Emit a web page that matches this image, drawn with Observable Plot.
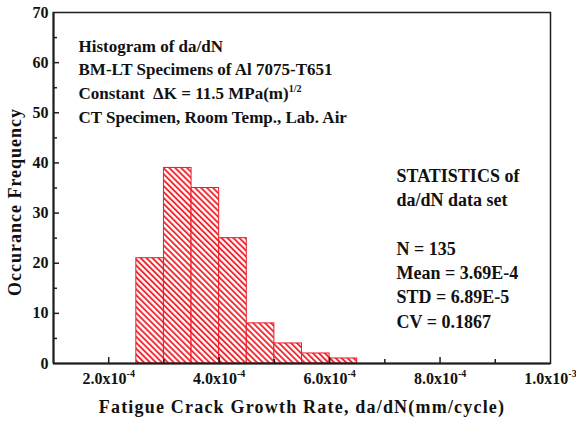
<!DOCTYPE html>
<html>
<head>
<meta charset="utf-8">
<script src="https://cdn.jsdelivr.net/npm/d3@7"></script>
<script src="https://cdn.jsdelivr.net/npm/@observablehq/plot@0.6"></script>
<style>
  html, body { margin: 0; padding: 0; background: #fff; }
  #chart { width: 576px; height: 425px; }
</style>
</head>
<body>
<div id="chart"></div>
<script>
// ---- data ----
const binStart = [2.5e-4, 3.0e-4, 3.5e-4, 4.0e-4, 4.5e-4, 5.0e-4, 5.5e-4, 6.0e-4];
const binEnd   = [3.0e-4, 3.5e-4, 4.0e-4, 4.5e-4, 5.0e-4, 5.5e-4, 6.0e-4, 6.5e-4];
const counts   = [21, 39, 35, 25, 8, 4, 2, 1];

const xMajorTicks = [2e-4, 4e-4, 6e-4, 8e-4, 1e-3];
const xTickLabels = ["2.0x10^-4", "4.0x10^-4", "6.0x10^-4", "8.0x10^-4", "1.0x10^-3"];
const xMinorTicks = [3e-4, 5e-4, 7e-4, 9e-4];
const yMajorTicks = [0, 10, 20, 30, 40, 50, 60, 70];
const yTickLabels = ["0", "10", "20", "30", "40", "50", "60", "70"];
const yMinorTicks = [5, 15, 25, 35, 45, 55, 65];

const xTitle = "Fatigue Crack Growth Rate, da/dN(mm/cycle)";
const yTitle = "Occurance Frequency";
const infoLines = [
  "Histogram of da/dN",
  "BM-LT Specimens of Al 7075-T651",
  "Constant \u00a0\u0394K = 11.5 MPa(m)^1/2",
  "CT Specimen, Room Temp., Lab. Air"
];
const statLines = [
  "STATISTICS of",
  "da/dN data set",
  "",
  "N = 135",
  "Mean = 3.69E-4",
  "STD = 6.89E-5",
  "CV = 0.1867"
];

const bins = binStart.map((s, i) => ({x1: s, x2: binEnd[i], count: counts[i]}));
const xTicks = xMajorTicks.map((t, i) => ({t, label: xTickLabels[i]}));
const yTicks = yMajorTicks.map((t, i) => ({t, label: yTickLabels[i]}));

const W = 576, H = 425, ML = 53, MR = 26, MT = 12, MB = 62;
const FW = W - ML - MR, FH = H - MT - MB;
const axisColor = "#1e1e1e";
const red = "#ee1c25";

const plot = Plot.plot({
  width: W, height: H,
  marginLeft: ML, marginRight: MR, marginTop: MT, marginBottom: MB,
  style: {fontFamily: "'Liberation Serif', 'Times New Roman', serif", fontWeight: "bold", fontSize: "15px", color: "#111", background: "#fff"},
  x: {domain: [1e-4, 1e-3], axis: null},
  y: {domain: [0, 70], axis: null},
  marks: [
    Plot.rectY(bins, {x1: "x1", x2: "x2", y: "count", fill: "url(#hatch)", stroke: red, strokeWidth: 1}),
    Plot.frame({stroke: axisColor, strokeWidth: 1.5}),
    Plot.ruleY([0], {stroke: axisColor, strokeWidth: 2}),
    Plot.ruleX([1e-4], {stroke: axisColor, strokeWidth: 2}),
    // inward ticks
    Plot.tickX(xMajorTicks.slice(0, 4), {x: d => d, stroke: axisColor, strokeWidth: 1.5, insetTop: FH - 6}),
    Plot.tickX(xMinorTicks, {x: d => d, stroke: axisColor, strokeWidth: 1.5, insetTop: FH - 4}),
    Plot.tickY(yMajorTicks.slice(1, 7), {y: d => d, stroke: axisColor, strokeWidth: 1.5, insetRight: FW - 6}),
    Plot.tickY(yMinorTicks, {y: d => d, stroke: axisColor, strokeWidth: 1.5, insetRight: FW - 4}),
    // tick labels
    Plot.text(xTicks, {x: "t", text: "label", frameAnchor: "bottom", textAnchor: "middle", lineAnchor: "top", dy: 9, fontSize: 16, fill: "#111"}),
    Plot.text(yTicks, {y: "t", text: "label", frameAnchor: "left", textAnchor: "end", lineAnchor: "middle", dx: -5, fontSize: 16, fill: "#111"}),
    // titles
    Plot.text([xTitle], {text: d => d, frameAnchor: "bottom", textAnchor: "middle", dy: 49, fontSize: 18, fill: "#111"}),
    Plot.text([yTitle], {text: d => d, frameAnchor: "left", textAnchor: "middle", rotate: -90, dx: -38, dy: 14, fontSize: 18, fill: "#111"}),
    // annotations
    Plot.text([infoLines.join("\n")], {text: d => d, frameAnchor: "top-left", textAnchor: "start", lineAnchor: "top", dx: 25, dy: 22, fontSize: 17, lineHeight: 1.41, fill: "#111"}),
    Plot.text([statLines.join("\n")], {text: d => d, frameAnchor: "top-left", textAnchor: "start", lineAnchor: "top", dx: 343, dy: 152, fontSize: 18, lineHeight: 1.35, fill: "#111"})
  ]
});

const svg = d3.select(plot);

// letter spacing for wide axis titles
svg.selectAll("text").each(function() {
  const t = this.textContent;
  if (t === xTitle) d3.select(this).attr("letter-spacing", "1.2px");
  if (t === yTitle) d3.select(this).attr("letter-spacing", "1px");
});

// hatch pattern
const defs = svg.insert("defs", ":first-child");
const pat = defs.append("pattern")
  .attr("id", "hatch")
  .attr("patternUnits", "userSpaceOnUse")
  .attr("width", 4.2).attr("height", 4.2)
  .attr("patternTransform", "rotate(-45)");
pat.append("rect").attr("width", 4.2).attr("height", 4.2).attr("fill", "#fff");
pat.append("line").attr("x1", 1).attr("y1", 0).attr("x2", 1).attr("y2", 4.2)
  .attr("stroke", red).attr("stroke-width", 1.8);

// superscripts
function supify(el, shift, size) {
  const s = el.textContent;
  if (!s.includes("^")) return;
  const [base, sup] = s.split("^");
  el.textContent = "";
  d3.select(el).append("tspan").text(base);
  d3.select(el).append("tspan").attr("baseline-shift", shift).attr("font-size", size).text(sup);
}
svg.selectAll("text").each(function() {
  if (this.querySelector("tspan")) return;
  supify(this, "7px", "10px");
});
svg.selectAll("tspan").each(function() {
  supify(this, "7px", "10px");
});

document.getElementById("chart").appendChild(plot);
</script>
</body>
</html>
